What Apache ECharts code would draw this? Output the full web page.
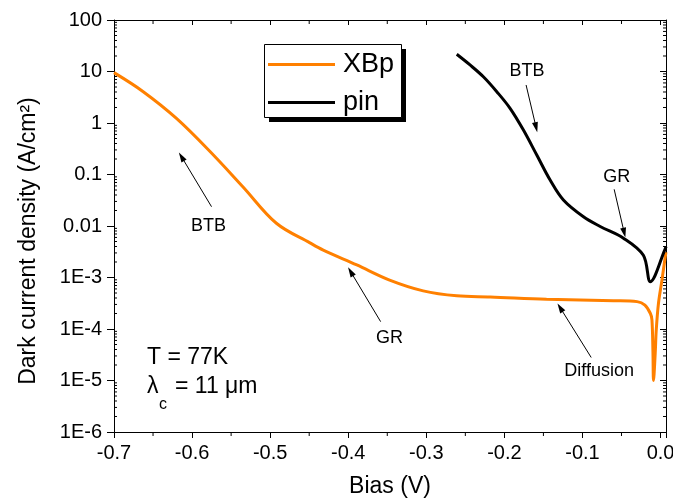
<!DOCTYPE html>
<html>
<head>
<meta charset="utf-8">
<script src="https://cdn.jsdelivr.net/npm/echarts@6/dist/echarts.min.js"></script>
<style>
html, body { margin: 0; padding: 0; background: #fff; }
#main { width: 673px; height: 500px; }
</style>
</head>
<body>
<div id="main"></div>
<script>
// XBp dark current (bias in V, density in A/cm2)
var xbpBias = [-0.700, -0.663, -0.620, -0.577, -0.535, -0.492, -0.449, -0.432, -0.389, -0.347, -0.304,
  -0.261, -0.218, -0.146, -0.060, -0.030, -0.020, -0.013, -0.011, -0.0097, -0.009, -0.0068, -0.0055,
  -0.0026, 0.0018, 0.0060, 0.007];
var xbpJ = [9.5, 4.1, 1.23, 0.28, 0.058, 0.0113, 0.0047, 0.0034, 0.00175, 0.00089, 0.00055,
  0.00044, 0.00042, 0.00038, 0.000355, 0.00034, 0.00029, 0.00020, 0.00015, 0.000034, 0.00001, 0.000034, 0.000095,
  0.00032, 0.00089, 0.0025, 0.0031];

// pin dark current
var pinBias = [-0.261, -0.244, -0.2269, -0.2097, -0.1927, -0.1756, -0.1585, -0.1414, -0.1244,
  -0.0987, -0.0773, -0.0475, -0.022, -0.013, 0.006, 0.007];
var pinJ = [21.6, 13.4, 7.9, 4.05, 1.93, 0.73, 0.239, 0.078, 0.032,
  0.0151, 0.0098, 0.0058, 0.0027, 0.00083, 0.0036, 0.0040];

var xTickLabels = ['-0.7', '-0.6', '-0.5', '-0.4', '-0.3', '-0.2', '-0.1', '0.0'];
var yTickLabels = ['1E-6', '1E-5', '1E-4', '1E-3', '0.01', '0.1', '1', '10', '100'];
var xMinorTicks = [-0.65, -0.55, -0.45, -0.35, -0.25, -0.15, -0.05];

// annotation text and arrows (data coordinates)
var noteText = [
  { name: 'BTB', coord: [-0.579, 0.0101] },
  { name: 'GR', coord: [-0.347, 0.000066] },
  { name: 'Diffusion', coord: [-0.0786, 0.0000155] },
  { name: 'BTB', coord: [-0.171, 10.4] },
  { name: 'GR', coord: [-0.056, 0.0906] }
];
var noteArrows = [
  [[-0.5751, 0.0237], [-0.6136, 0.222]],
  [[-0.3585, 0.000139], [-0.3969, 0.0013]],
  [[-0.0888, 0.000028], [-0.1286, 0.00026]],
  [[-0.1722, 5.47], [-0.1594, 0.826]],
  [[-0.0594, 0.0516], [-0.0465, 0.0074]]
];

var X_MIN = -0.7, X_MAX = 0.007, Y_MIN = 1e-6, Y_MAX = 100;
var FONT = 'Liberation Sans, Arial, sans-serif';

function pairs(xs, ys) {
  var out = [];
  for (var i = 0; i < xs.length; i++) out.push([xs[i], ys[i]]);
  return out;
}

var yMinor = [];
for (var k = -6; k < 2; k++) {
  for (var m = 2; m <= 9; m++) yMinor.push([X_MIN, m * Math.pow(10, k)]);
}
var xMinor = xMinorTicks.map(function (v) { return [v, Y_MIN]; });

var myChart = echarts.init(document.getElementById('main'));

myChart.setOption({
  animation: false,
  textStyle: { fontFamily: FONT },
  grid: { left: 114, right: 7, top: 20, bottom: 68, outerBoundsMode: 'none' },
  legend: {
    data: ['XBp', 'pin'],
    orient: 'vertical',
    left: 268,
    top: 51,
    z: 10,
    icon: 'rect',
    itemWidth: 67,
    itemHeight: 3,
    itemGap: 11,
    padding: 0,
    textStyle: { fontSize: 27, color: '#000', fontFamily: FONT, padding: [0, 0, 0, 3] }
  },
  xAxis: [{
    type: 'value',
    min: X_MIN,
    max: X_MAX,
    interval: 0.1,
    splitLine: { show: false },
    axisLine: { onZero: false, lineStyle: { color: '#000', width: 1 } },
    axisTick: { length: 6, lineStyle: { color: '#000' } },
    axisLabel: {
      color: '#000', fontSize: 20, margin: 11,
      formatter: function (v) {
        var i = Math.round((v - X_MIN) / 0.1);
        if (Math.abs(v - (X_MIN + i * 0.1)) > 1e-6) return '';
        return xTickLabels[i] || '';
      }
    },
    name: 'Bias (V)',
    nameLocation: 'middle',
    nameGap: 43,
    nameTextStyle: { fontSize: 23, color: '#000' }
  }, {
    type: 'value',
    position: 'top',
    min: X_MIN,
    max: X_MAX,
    interval: 0.1,
    splitLine: { show: false },
    axisLine: { onZero: false, lineStyle: { color: '#000', width: 1 } },
    axisTick: { inside: true, length: 5, lineStyle: { color: '#000' } },
    axisLabel: { show: false }
  }],
  yAxis: [{
    type: 'log',
    logBase: 10,
    min: Y_MIN,
    max: Y_MAX,
    interval: 1,
    splitLine: { show: false },
    axisLine: { show: true, onZero: false, lineStyle: { color: '#000', width: 1 } },
    axisTick: { show: true, length: 7, lineStyle: { color: '#000' } },
    axisLabel: {
      color: '#000', fontSize: 20, margin: 12,
      formatter: function (v) {
        return yTickLabels[Math.round(Math.log10(v)) + 6] || '';
      }
    }
  }, {
    type: 'log',
    logBase: 10,
    position: 'right',
    min: Y_MIN,
    max: Y_MAX,
    interval: 1,
    splitLine: { show: false },
    axisLine: { show: true, onZero: false, lineStyle: { color: '#000', width: 1 } },
    axisTick: { show: true, inside: true, length: 6, lineStyle: { color: '#000' } },
    axisLabel: { show: false }
  }],
  series: [{
    name: 'XBp',
    type: 'line',
    data: pairs(xbpBias, xbpJ),
    showSymbol: false,
    symbol: 'none',
    smooth: 0.35,
    color: '#FF8000',
    lineStyle: { width: 3, color: '#FF8000' },
    z: 3
  }, {
    name: 'pin',
    type: 'line',
    data: pairs(pinBias, pinJ),
    showSymbol: false,
    symbol: 'none',
    smooth: 0.35,
    color: '#000',
    lineStyle: { width: 3, color: '#000' },
    z: 3,
    markLine: {
      silent: true,
      symbol: ['none', 'triangle'],
      symbolSize: [6, 10],
      label: { show: false },
      lineStyle: { color: '#000', width: 1, type: 'solid' },
      data: noteArrows.map(function (a) {
        return [{ coord: a[0] }, { coord: a[1] }];
      })
    },
    markPoint: {
      silent: true,
      symbol: 'rect',
      symbolSize: 1,
      itemStyle: { color: 'rgba(0,0,0,0)' },
      label: { show: true, position: 'inside', color: '#000', fontSize: 18, fontFamily: FONT, formatter: '{b}' },
      data: noteText.map(function (n) { return { name: n.name, coord: n.coord }; })
    }
  }, {
    type: 'custom',
    silent: true,
    clip: false,
    data: yMinor,
    renderItem: function (params, api) {
      var p = api.coord([X_MIN, api.value(1)]);
      var q = api.coord([X_MAX, api.value(1)]);
      var st = { stroke: '#000', lineWidth: 1 };
      return {
        type: 'group',
        children: [
          { type: 'line', shape: { x1: p[0], y1: p[1], x2: p[0] + 3, y2: p[1] }, style: st },
          { type: 'line', shape: { x1: q[0] - 3, y1: q[1], x2: q[0], y2: q[1] }, style: st }
        ]
      };
    }
  }, {
    type: 'custom',
    silent: true,
    clip: false,
    data: xMinor,
    renderItem: function (params, api) {
      var p = api.coord([api.value(0), Y_MIN]);
      var q = api.coord([api.value(0), Y_MAX]);
      var st = { stroke: '#000', lineWidth: 1 };
      return {
        type: 'group',
        children: [
          { type: 'line', shape: { x1: p[0], y1: p[1], x2: p[0], y2: p[1] + 4 }, style: st },
          { type: 'line', shape: { x1: q[0], y1: q[1], x2: q[0], y2: q[1] + 4 }, style: st }
        ]
      };
    }
  }],
  graphic: [{
    type: 'rect',
    z: 5,
    shape: { x: 269, y: 49, width: 137, height: 73 },
    style: { fill: '#000' }
  }, {
    type: 'rect',
    z: 6,
    shape: { x: 264.5, y: 44.5, width: 137, height: 73 },
    style: { fill: '#fff', stroke: '#000', lineWidth: 1 }
  }, {
    type: 'text',
    x: 29,
    y: 241,
    rotation: Math.PI / 2,
    style: {
      text: 'Dark current density (A/cm²)',
      fontSize: 23, fontFamily: FONT, fill: '#000',
      align: 'center', verticalAlign: 'middle'
    }
  }, {
    type: 'text',
    x: 147,
    y: 358,
    style: { text: 'T = 77K', fontSize: 23, fontFamily: FONT, fill: '#000', align: 'left', verticalAlign: 'middle' }
  }, {
    type: 'text',
    x: 147,
    y: 387,
    style: { text: 'λ', fontSize: 23, fontFamily: FONT, fill: '#000', align: 'left', verticalAlign: 'middle' }
  }, {
    type: 'text',
    x: 159,
    y: 405,
    style: { text: 'c', fontSize: 16, fontFamily: FONT, fill: '#000', align: 'left', verticalAlign: 'middle' }
  }, {
    type: 'text',
    x: 175,
    y: 387,
    style: { text: '= 11 μm', fontSize: 23, fontFamily: FONT, fill: '#000', align: 'left', verticalAlign: 'middle' }
  }]
});
</script>
</body>
</html>
